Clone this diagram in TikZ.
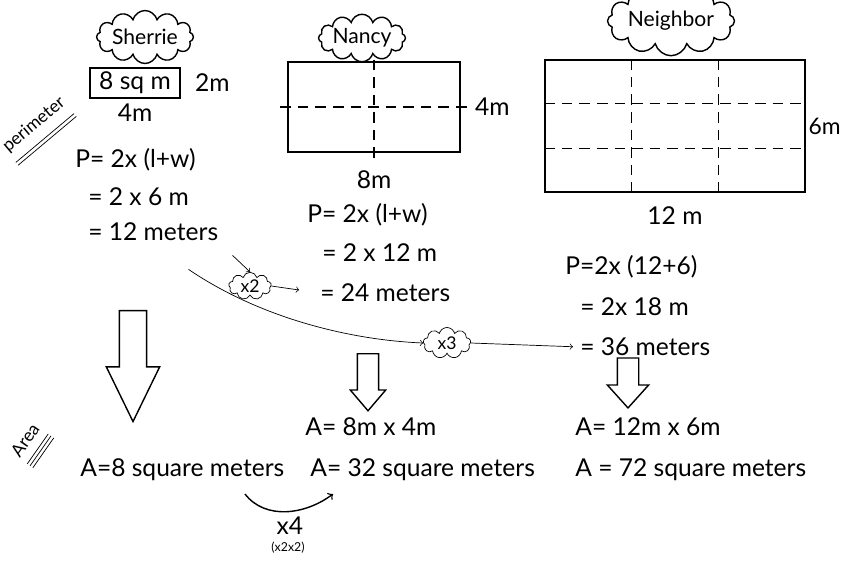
\documentclass[tikz,border=0pt]{standalone}
\usepackage{fontspec}
\setmainfont{Lato}
\usetikzlibrary{positioning,shapes,arrows,calc}

\begin{document}
\begin{tikzpicture}[x=0.02cm,y=-0.02cm]
\tikzstyle{every node}+=[inner sep=0pt]
\tikzstyle{hand}=[font=\fontsize{14}{16}\selectfont]
\tikzstyle{person}=[cloud, draw, thick, cloud puffs=12, aspect=2.6, inner sep=0pt, font=\large]
\tikzstyle{factor}=[cloud, draw, cloud puffs=9, aspect=1.5, inner sep=0pt, minimum width=0.85cm, minimum height=0.55cm]
\tikzstyle{roombox}=[draw, thick]
\tikzstyle{split}=[thick, dash pattern=on 6pt off 4pt]
\tikzstyle{downarrow}=[single arrow, draw, thick, rotate=-90, inner xsep=0pt]
\useasboundingbox (0,0) rectangle (843,562);
\node[person] (sherrie) at (145,37) {Sherrie};
\node[roombox, minimum width=1.8cm, minimum height=0.6cm, hand] (sroom) at (135,83) {8 sq m};
\node[hand, right=8pt of sroom] (swidth) {2m};
\node[hand, below=3pt of sroom] (slength) {4m};
\node[rotate=40] (perim) at (34,125) {perimeter};
\draw ([xshift=3.2pt,yshift=-3.8pt]perim.south west) -- ([xshift=3.2pt,yshift=-3.8pt]perim.south east);
\draw ([xshift=4.5pt,yshift=-5.4pt]perim.south west) -- ([xshift=4.5pt,yshift=-5.4pt]perim.south east);
\node[hand, anchor=west] (sp1) at (75,160) {P= 2x (l+w)};
\node[hand, anchor=west] (sp2) at (88,197) {= 2 x 6 m};
\node[hand, anchor=west] (sp3) at (88,232) {= 12 meters};
\node[person] (nancy) at (362,38) {Nancy};
\node[roombox, minimum width=3.44cm, minimum height=1.8cm] (nroom) at (374,107) {};
\draw[split] ([yshift=1pt]nroom.north) -- ([yshift=-3pt]nroom.south);
\draw[split] ([xshift=-4pt]nroom.west) -- ([xshift=4pt]nroom.east);
\node[hand, right=8pt of nroom] (nwidth) {4m};
\node[hand, below=10pt of nroom] (nlength) {8m};
\node[hand, anchor=west] (np1) at (307,215) {P= 2x (l+w)};
\node[hand, anchor=west] (np2) at (322,253) {= 2 x 12 m};
\node[hand, anchor=west] (np3) at (320,293) {= 24 meters};
\node[person] (neighbor) at (671,21) {Neighbor};
\node[roombox, minimum width=5.2cm, minimum height=2.64cm] (broom) at (675,126) {};
\foreach \t in {1,2} {
  \draw[split] ($(broom.north west)!\t/3!(broom.north east)$) -- ($(broom.south west)!\t/3!(broom.south east)$);
  \draw[split] ($(broom.north west)!\t/3!(broom.south west)$) -- ($(broom.north east)!\t/3!(broom.south east)$);
}
\node[hand, font=\fontsize{13}{15}\selectfont, right=1.5pt of broom] (bwidth) {6m};
\node[hand, below=8pt of broom] (blength) {12 m};
\node[hand, anchor=west] (bp1) at (565,267) {P=2x (12+6)};
\node[hand, anchor=west] (bp2) at (580,307) {= 2x 18 m};
\node[hand, anchor=west] (bp3) at (580,347) {= 36 meters};
\node[factor] (two) at (250,286) {x2};
\node[factor, minimum width=0.95cm, minimum height=0.62cm] (three) at (447,343) {x3};
\draw[->] ($(sp3.south east)+(14,14)$) -- (two.north);
\draw[->, shorten >=12pt] (two.east) -- (np3.west);
\coordinate (bend) at ($(sp3.south east)+(-30,28)$);
\draw[->] (bend) .. controls (260,318) and (350,340) .. (three.west);
\draw[->, shorten >=4pt] (three.east) -- (bp3.west);
\node[downarrow, inner ysep=0.26cm, minimum height=2.22cm, minimum width=1.04cm, single arrow head extend=0.26cm, single arrow tip angle=52] (sdown) at (133,352) {};
\node[downarrow, inner ysep=0.2cm, minimum height=1.14cm, minimum width=0.68cm, single arrow head extend=0.14cm, single arrow tip angle=81] (ndown) at (368,376) {};
\node[downarrow, inner ysep=0.2cm, minimum height=1.0cm, minimum width=0.8cm, single arrow head extend=0.2cm, single arrow tip angle=84] (bdown) at (628,377) {};
\node[rotate=55] (area) at (25,440) {Area};
\draw ([xshift=4.1pt,yshift=-2.9pt]area.south west) -- ([xshift=4.1pt,yshift=-2.9pt]area.south east);
\draw ([xshift=5.7pt,yshift=-4pt]area.south west) -- ([xshift=5.7pt,yshift=-4pt]area.south east);
\draw ([xshift=7.3pt,yshift=-5.1pt]area.south west) -- ([xshift=7.3pt,yshift=-5.1pt]area.south east);
\node[hand, anchor=west] (sa) at (80,470) {A=8 square meters};
\node[hand, anchor=west] (na1) at (305,427) {A= 8m x 4m};
\node[hand, anchor=west] (na2) at (310,470) {A= 32 square meters};
\node[hand, anchor=west] (ba1) at (575,427) {A= 12m x 6m};
\node[hand, anchor=west] (ba2) at (575,470) {A = 72 square meters};
\coordinate (fourfrom) at (245,494);
\coordinate (fourto) at (333,494);
\draw[->, thick] (fourfrom) .. controls (265,520) and (305,515) .. (fourto);
\node[hand] (four) at (290,526) {x4};
\node[font=\scriptsize] (twotwo) at (288,548) {(x2x2)};
\end{tikzpicture}
\end{document}
